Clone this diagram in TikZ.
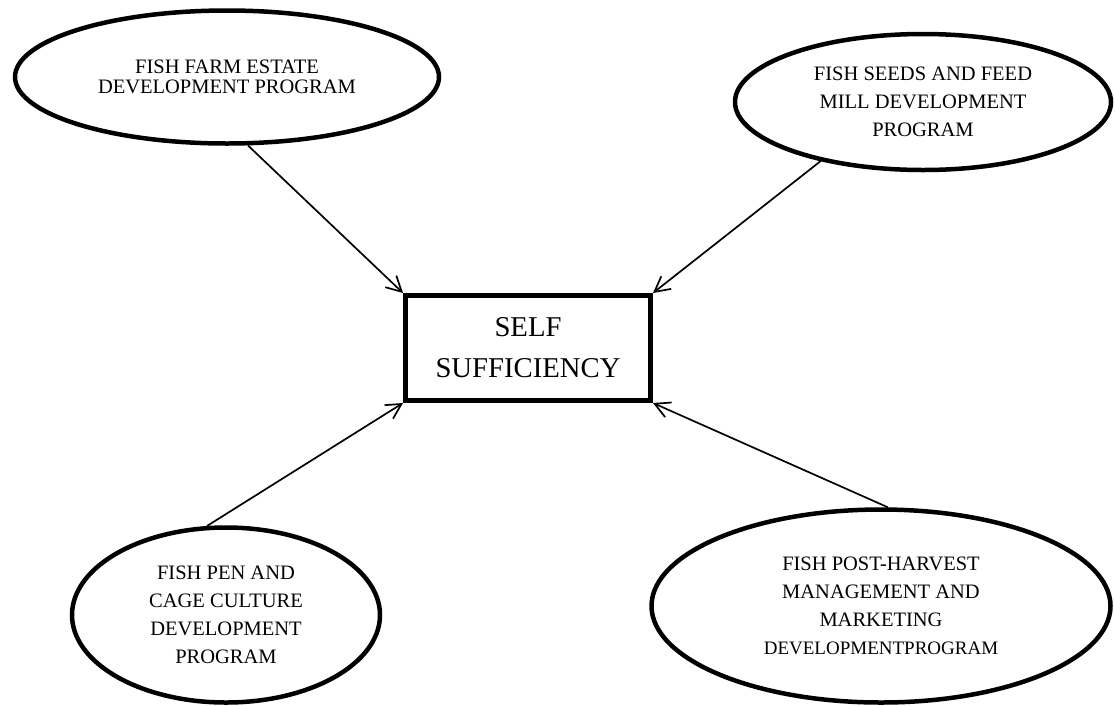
\documentclass[tikz,border=0pt]{standalone}
\usepackage{fontspec}
\setmainfont{Liberation Serif}
\usetikzlibrary{shapes.geometric,arrows.meta}

\begin{document}
\begin{tikzpicture}[x=1pt,y=-1pt,
  elipse/.style={draw,ellipse,line width=4.5pt,inner sep=0pt,align=center,
    font=\fontsize{20.5}{28}\selectfont},
  caja/.style={draw,line width=5pt,inner sep=0pt,align=center,
    minimum width=245pt,minimum height=105pt,
    font=\fontsize{28.7}{41}\selectfont},
  flecha/.style={line width=1.7pt,-{Straight Barb[length=15pt,width=16pt]}}]
  \useasboundingbox (0,0) rectangle (1115,705);

  % Caja central
  \node[caja] (self) at (528,348) {SELF\\SUFFICIENCY};

  % Elipses de arriba
  \node[elipse,minimum width=424pt,minimum height=133pt,
    font=\fontsize{20.5}{20}\selectfont] (estate) at (227,77)
    {FISH FARM ESTATE\\DEVELOPMENT PROGRAM};
  \node[elipse,minimum width=376pt,minimum height=136pt] (seeds) at (923,102)
    {FISH SEEDS AND FEED\\MILL DEVELOPMENT\\PROGRAM};

  % Elipses de abajo
  \node[elipse,minimum width=308pt,minimum height=175pt] (pen) at (226,615)
    {FISH PEN AND\\CAGE CULTURE\\DEVELOPMENT\\PROGRAM};
  \node[elipse,minimum width=459pt,minimum height=193pt] (post) at (881,606)
    {FISH POST-HARVEST\\MANAGEMENT AND\\MARKETING\\
     {\fontsize{19}{28}\selectfont DEVELOPMENTPROGRAM}};

  % Flechas
  \draw[flecha] (estate.287) -- (self.north west);
  \draw[flecha] (seeds.210) -- (self.north east);
  \draw[flecha] (pen.102) -- (self.south west);
  \draw[flecha] (post.86.5) -- (self.south east);
\end{tikzpicture}
\end{document}
